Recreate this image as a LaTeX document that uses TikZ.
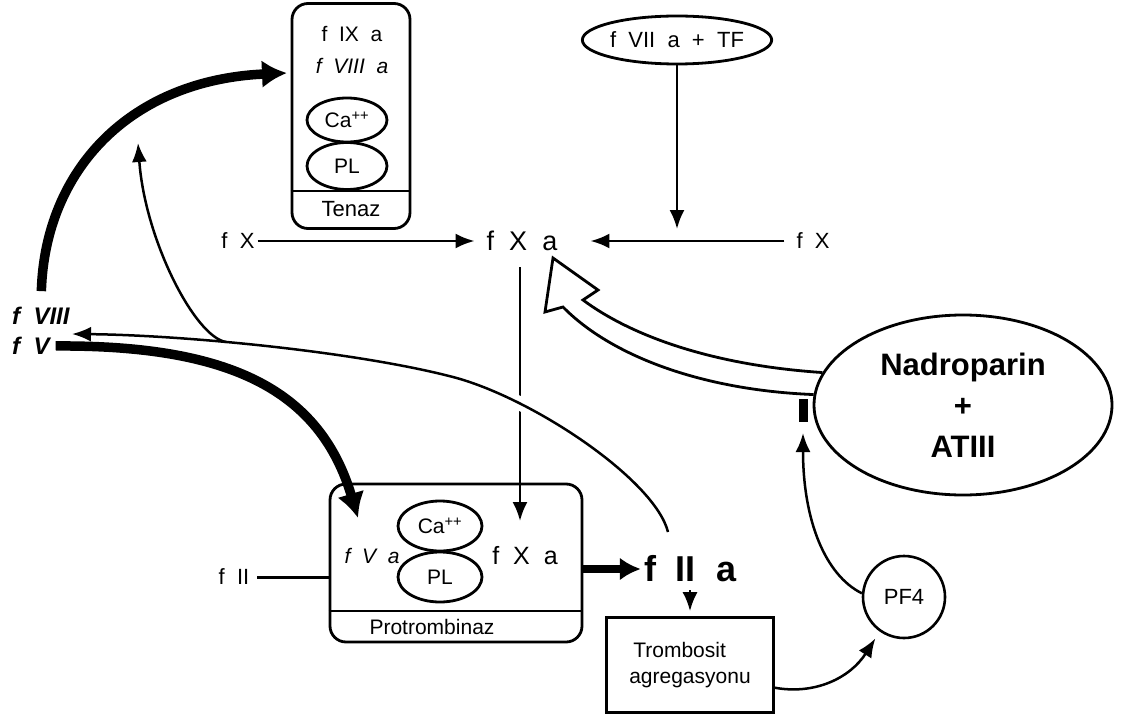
\documentclass[tikz,border=0pt]{standalone}
\usepackage{fontspec}
\setmainfont{Liberation Sans}[WordSpace=2]
\usetikzlibrary{calc,positioning,arrows,arrows.meta,shapes}

\begin{document}
\begin{tikzpicture}[x=1pt, y=-1pt]
\tikzstyle{every node}=[inner sep=0pt]
\tikzstyle{lbl}=[font=\fontsize{22}{24}\selectfont]
\tikzstyle{oval}=[ellipse, draw, line width=2.8pt, font=\fontsize{21}{23}\selectfont]
\tikzstyle{cbox}=[draw, line width=2.8pt, rounded corners=16pt]
\tikzstyle{arr}=[line width=2.5pt, -{Latex[length=19pt,width=15pt]}]
\tikzstyle{fatarr}=[line width=9.5pt, -{Latex[length=25pt,width=28pt]}]
\useasboundingbox (0,0) rectangle (1123,722);

% tenaz complex
\node[cbox, minimum width=118, minimum height=225] (tenaz) at (351,116) {};
\node[lbl, font=\fontsize{21}{23}\selectfont] (f9a) at (352,34) {f IX a};
\node[lbl, font=\fontsize{21}{23}\selectfont\itshape] (f8a) at (352,66) {f VIII a};
\node[oval, minimum width=80, minimum height=44] (ca1) at (347,120) {Ca\textsuperscript{++}};
\node[oval, minimum width=80, minimum height=47] (pl1) at (347,166) {PL};
\coordinate (tline) at (0,191);
\draw[line width=2.8pt] (tenaz.west |- tline) -- (tenaz.east |- tline);
\node[lbl] (tname) at (351,209) {Tenaz};

% fX row
\node[lbl] (fxl) at (238,241) {f X};
\node[lbl, font=\fontsize{27}{29}\selectfont] (fxa) at (522,241) {f X a};
\node[lbl] (fxr) at (813,241) {f X};
\node[oval, minimum width=168, minimum height=48, font=\fontsize{22}{24}\selectfont] (f7) at (677,40) {f VII a + TF};
\coordinate (f7in) at (677,229);
\draw[arr, shorten <=3pt, shorten >=12pt] (fxl.east) -- (fxa.west);
\draw[arr, shorten <=12pt, shorten >=33pt] (fxr.west) -- (fxa.east);
\draw[arr] (f7.south) -- (f7in);

% protrombinaz complex
\node[cbox, minimum width=252, minimum height=158] (prot) at (456,563) {};
\coordinate (pline) at (0,611);
\draw[line width=2.8pt] (prot.west |- pline) -- (prot.east |- pline);
\node[lbl, font=\fontsize{21}{23}\selectfont] (pname) at (432,627) {Protrombinaz};
\node[oval, minimum width=84, minimum height=50] (ca2) at (440,526) {Ca\textsuperscript{++}};
\node[oval, minimum width=84, minimum height=50] (pl2) at (440,577) {PL};
\node[lbl, font=\fontsize{21}{23}\selectfont\itshape] (f5a) at (372,556) {f V a};
\node[lbl, font=\fontsize{25}{27}\selectfont] (fxa2) at (525,556) {f X a};
\coordinate (xain) at (520,521);
\draw[arr, shorten <=16pt] (fxa.south -| xain) -- (xain);

\node[lbl] (f2) at (234,577) {f II};
\draw[line width=3pt, shorten <=8pt] (f2.east) -- (f2.east -| prot.west);
\node[font=\fontsize{36}{38}\selectfont\bfseries] (f2a) at (690,569) {f II a};
\draw[line width=7.5pt, -{Latex[length=21pt,width=23pt]}, shorten >=3pt] (prot.east |- f2a) -- (f2a.west);

\node[draw, line width=2.6pt, minimum width=167, minimum height=95, align=left,
      font=\fontsize{21}{26}\selectfont] (tromb) at (690,665) {\hspace*{4pt}Trombosit\\agregasyonu};
\draw[arr, shorten <=8pt, shorten >=5pt] (f2a.south) -- (f2a.south |- tromb.north);

\node[circle, draw, line width=2.6pt, minimum size=82, font=\fontsize{22}{24}\selectfont] (pf4) at (904,597) {PF4};
\draw[arr, shorten >=8pt] (tromb.-15) .. controls (815,695) and (850,678) .. (pf4.235);

% nadroparin
\node[oval, minimum width=298, minimum height=180, align=center,
      font=\fontsize{31}{41}\selectfont\bfseries] (nadro) at (963,405) {Nadroparin\\+\\ATIII};
\coordinate (bartip) at (803,433);
\coordinate (bartop) at (803,399);
\draw[arr] (pf4.175) .. controls (825,575) and (803,520) .. (bartip);
\draw[line width=9pt] (bartop) -- ++(0,23);
\draw[line width=2.8pt, line join=miter] (nadro.176) .. controls (700,390) and (610,355) .. (563,307)
  -- (545,312) -- (553,258) -- (598,290) -- (583,300)
  .. controls (630,335) and (710,365) .. (nadro.167);

% feedback from fIIa
\node[lbl, font=\fontsize{24}{26}\selectfont\bfseries\itshape, anchor=west] (f8) at (12,316) {f VIII};
\node[lbl, font=\fontsize{24}{26}\selectfont\bfseries\itshape, anchor=west] (f5) at (12,346) {f V};
\coordinate (f2out) at (668,532);
\coordinate (vtip) at (72,334);
\coordinate (jn) at (226,342);
\coordinate (ttip) at (138,143);
\draw[arr, preaction={draw, white, line width=14pt, arrows=-}] (f2out) .. controls (655,480) and (533,398) .. (453,377)
  .. controls (353,351) and (180,335) .. (vtip);
\draw[arr] (jn) .. controls (195,337) and (145,240) .. (ttip);

% thick arrows
\coordinate (tin) at (287,73);
\coordinate (vin) at (358,518);
\draw[fatarr, shorten <=16pt] (f8.north) .. controls (45,170) and (130,80) .. (tin);
\draw[fatarr, shorten <=6pt] (f5.east) .. controls (230,345) and (320,390) .. (vin);
\end{tikzpicture}
\end{document}
